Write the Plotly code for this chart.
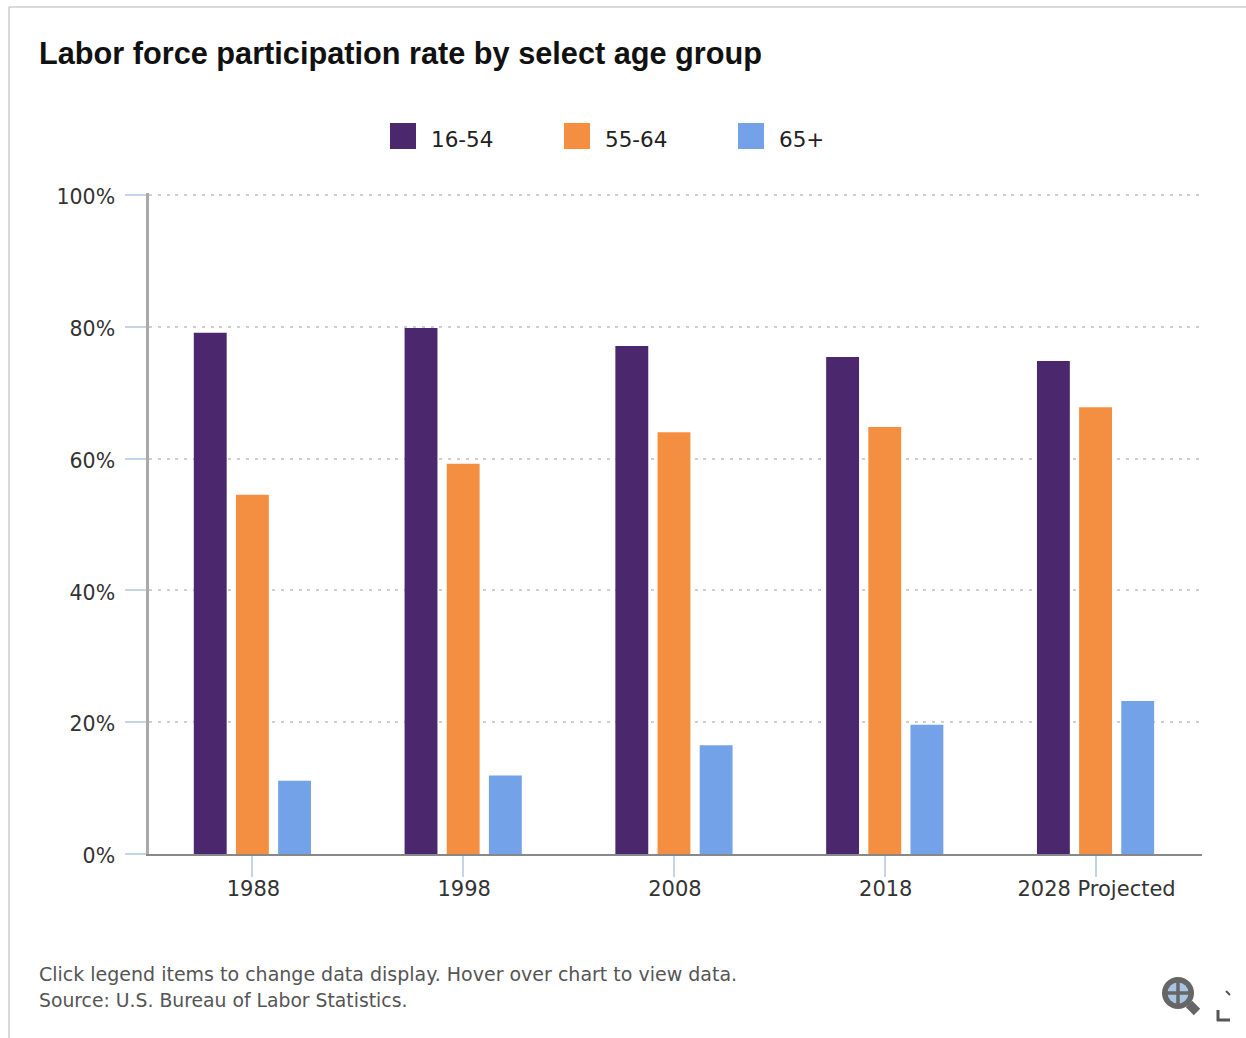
import plotly.graph_objects as go

categories = ["1988", "1998", "2008", "2018", "2028 Projected"]
s_16_54 = [79.1, 79.8, 77.1, 75.4, 74.8]
s_55_64 = [54.5, 59.2, 64.0, 64.8, 67.8]
s_65 = [11.1, 11.9, 16.5, 19.6, 23.2]
series_names = ["16-54", "55-64", "65+"]
colors = ["#4B286D", "#F48F42", "#74A2E8"]
y_ticks = [0, 20, 40, 60, 80, 100]
y_labels = ["0%", "20%", "40%", "60%", "80%", "100%"]

W, H = 1246, 1038
L, R, T, B = 149, 1202, 193, 854
def px(x): return (x - L) / (R - L)
def py(y): return (B - y) / (B - T)

FONT = "DejaVu Sans"
fig = go.Figure()
for name, vals, c in zip(series_names, [s_16_54, s_55_64, s_65], colors):
    fig.add_bar(name=name, x=categories, y=vals, marker=dict(color=c, line=dict(width=0)))

shapes, ann = [], []
def text(x, y, s, size, color, xanchor="left", family=FONT, bold=False):
    ann.append(dict(xref="paper", yref="paper", x=px(x), y=py(y), text=f"<b>{s}</b>" if bold else s,
                    showarrow=False, xanchor=xanchor, yanchor="middle",
                    font=dict(size=size, color=color, family=family)))
def rect(x0, y0, x1, y1, **kw):
    shapes.append(dict(type="rect", xref="paper", yref="paper", x0=px(x0), x1=px(x1), y0=py(y0), y1=py(y1), **kw))
def circle(cx, cy, r, color):
    shapes.append(dict(type="circle", xref="paper", yref="paper", x0=px(cx - r), x1=px(cx + r),
                       y0=py(cy - r), y1=py(cy + r), fillcolor=color, line=dict(width=0)))
def line(x0, y0, x1, y1, color, width):
    shapes.append(dict(type="line", xref="paper", yref="paper", x0=px(x0), x1=px(x1), y0=py(y0), y1=py(y1),
                       line=dict(color=color, width=width)))

# page frame
line(9, 7, W, 7, "#cccccc", 1.5)
line(9, 7, 9, 1038, "#cccccc", 1.5)
# title and footer
text(37, 54, "Labor force participation rate by select age group", 30.7, "#111111", family="Liberation Sans", bold=True)
text(37, 974, "Click legend items to change data display. Hover over chart to view data.", 19, "#555555")
text(37, 1000, "Source: U.S. Bureau of Labor Statistics.", 18.8, "#555555")
# legend
for x0, name, c in zip([390, 564, 738], series_names, colors):
    rect(x0, 123, x0 + 26, 149, fillcolor=c, line=dict(width=0))
    text(x0 + 39, 139.5, name, 21.5, "#222222")
# zoom icon
circle(1178, 993, 16, "#666666")
circle(1178, 993, 10.5, "#A9C4E4")
line(1178, 982, 1178, 1004, "#666666", 3.5)
line(1167, 993, 1189, 993, "#666666", 3.5)
line(1189, 1004, 1197, 1012, "#666666", 9)
# fullscreen corner
line(1218, 1010, 1218, 1021, "#555555", 3)
line(1217, 1020, 1230, 1020, "#555555", 3)
line(1226, 991, 1230, 995, "#555555", 2)

fig.update_layout(
    width=W, height=H, margin=dict(l=L, r=W - R, t=T, b=H - B),
    paper_bgcolor="white", plot_bgcolor="white",
    barmode="group", bargap=0.4, bargroupgap=0.22,
    showlegend=False, shapes=shapes, annotations=ann,
    font=dict(family=FONT, color="#333333", size=21),
)
fig.update_xaxes(type="category", categoryorder="array", categoryarray=categories,
                 range=[-0.4905, 4.505],
                 ticks="outside", ticklen=21, tickwidth=1.5, tickcolor="#C5D5E8",
                 showline=True, linecolor="#888888", linewidth=2, showgrid=False,
                 ticklabelstandoff=-6, ticklabelshift=1,
                 tickfont=dict(size=21, color="#333333", family=FONT))
fig.update_yaxes(range=[0, 100.3], tickvals=y_ticks, ticktext=y_labels,
                 ticks="outside", ticklen=21, tickwidth=1.5, tickcolor="#C5D5E8",
                 showline=True, linecolor="#AAAAAA", linewidth=2.5,
                 showgrid=True, gridcolor="#CFCFCF", griddash="3px,5.8px", gridwidth=1.5,
                 zeroline=False, ticklabelstandoff=6, ticklabelshift=2,
                 tickfont=dict(size=20.5, color="#333333", family=FONT))
fig.write_html("out.html", config=dict(displayModeBar=False),
               post_script="document.body.style.margin='0';document.body.style.overflow='hidden';")
